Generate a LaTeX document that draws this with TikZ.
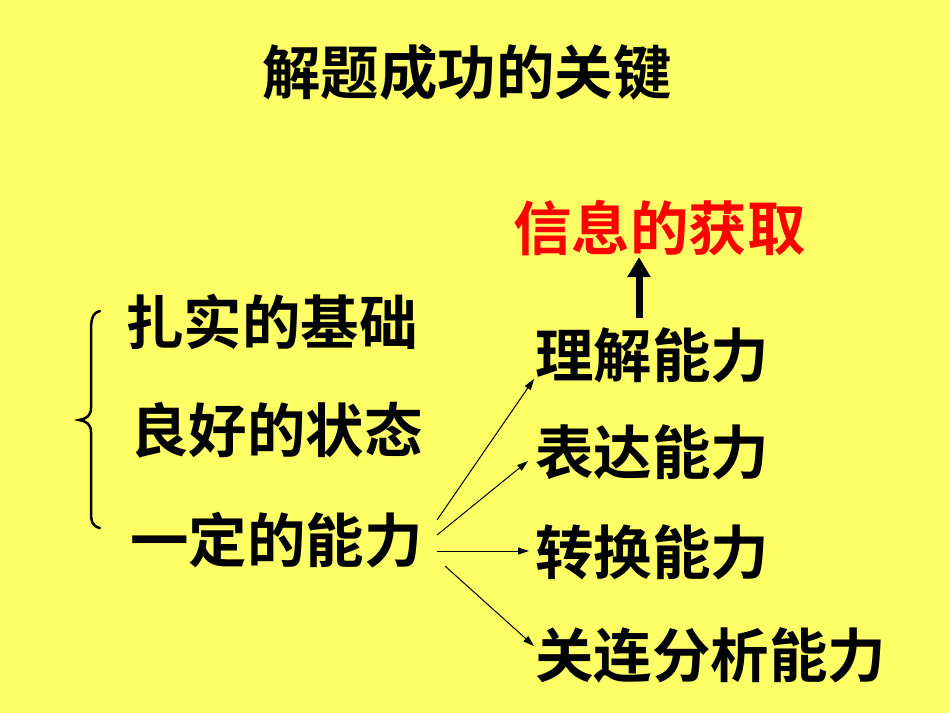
\documentclass[tikz,border=0pt]{standalone}
\usepackage{fontspec}
\usetikzlibrary{arrows.meta}
\newfontfamily\cjk{Noto Sans CJK SC Bold}
\definecolor{bgyellow}{RGB}{255,255,102}
\definecolor{tred}{RGB}{255,0,0}
\begin{document}
\begin{tikzpicture}[x=1pt,y=-1pt,
  txt/.style={font=\cjk\fontsize{58.5}{62}\selectfont, inner sep=0pt, anchor=west, text=black},
  thin arrow/.style={-{Triangle[length=11pt,width=7pt]}, line width=1pt},
  thick arrow/.style={-{Triangle[length=20pt,width=22pt]}, line width=7pt}]
\fill[bgyellow] (0,0) rectangle (950,713);
\useasboundingbox (0,0) rectangle (950,713);
\node[txt, anchor=center] (title) at (467,72) {解题成功的关键};
\node[txt, text=tred] (info) at (513,228) {信息的获取};
\node[txt] (l1) at (125,322) {扎实的基础};
\node[txt] (l2) at (130,430) {良好的状态};
\node[txt] (l3) at (130,540) {一定的能力};
\node[txt] (r1) at (535,355) {理解能力};
\node[txt] (r2) at (535,452) {表达能力};
\node[txt] (r3) at (535,552) {转换能力};
\node[txt] (r4) at (535,655) {关连分析能力};
% brace
\draw[line width=2.5pt, line cap=round] (100,311) .. controls (92,313) and (91,320) .. (91,332)
  -- (91,408) .. controls (91,416) and (86,419) .. (79,420)
  .. controls (86,421) and (91,424) .. (91,432)
  -- (91,510) .. controls (91,522) and (92,526) .. (100,528);
% arrows
\coordinate (s1) at (437,520);
\coordinate (s2) at (437,535);
\coordinate (s3) at (437,551);
\coordinate (s4) at (445,566);
\coordinate (e1) at (534,379);
\coordinate (e2) at (528,461);
\coordinate (e3) at (529,551);
\coordinate (e4) at (534,646);
\draw[thin arrow] (s1) -- (e1);
\draw[thin arrow] (s2) -- (e2);
\draw[thin arrow] (s3) -- (e3);
\draw[thin arrow] (s4) -- (e4);
\coordinate (u1) at (639,318);
\coordinate (u2) at (639,257);
\draw[thick arrow] (u1) -- (u2);
\end{tikzpicture}
\end{document}
